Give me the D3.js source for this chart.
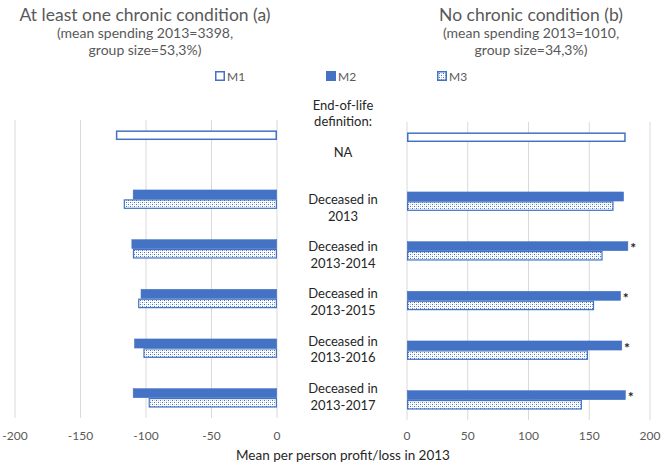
<!DOCTYPE html>
<html>
<head>
<meta charset="utf-8">
<script src="https://cdn.jsdelivr.net/npm/d3@7"></script>
<style>
  body { margin: 0; background: #fff; }
  text { font-family: Lato, "Open Sans", sans-serif; }
</style>
</head>
<body>
<div id="chart"></div>
<script>
// categories (end-of-life definitions), "\n" marks the line break
var categories = ["NA", "Deceased in\n2013", "Deceased in\n2013-2014", "Deceased in\n2013-2015",
                  "Deceased in\n2013-2016", "Deceased in\n2013-2017"];
var series = ["M1", "M2", "M3"];

// panel (a): at least one chronic condition
var chronicM1 = [-123, null, null, null, null, null];
var chronicM2 = [null, -110, -111, -104, -109, -110];
var chronicM3 = [null, -117, -110, -106, -102, -98];

// panel (b): no chronic condition
var noChronicM1 = [180, null, null, null, null, null];
var noChronicM2 = [null, 178.5, 182, 176, 177, 180];
var noChronicM3 = [null, 170, 161, 154, 149, 144];
var significantM2 = [false, false, true, true, true, true];

var leftTicks = [-200, -150, -100, -50, 0];
var rightTicks = [0, 50, 100, 150, 200];

var blue = "#4472C4";

var svg = d3.select("#chart").append("svg")
            .attr("width", 664)
            .attr("height", 466);

// dotted fill for M3
var pat = svg.append("defs").append("pattern")
             .attr("id", "dots")
             .attr("patternUnits", "userSpaceOnUse")
             .attr("width", 4)
             .attr("height", 4);
pat.append("rect").attr("width", 4).attr("height", 4).attr("fill", "#fff");
pat.append("rect").attr("x", 0).attr("y", 0).attr("width", 1).attr("height", 1).attr("fill", blue);
pat.append("rect").attr("x", 2).attr("y", 2).attr("width", 1).attr("height", 1).attr("fill", blue);
pat.append("rect").attr("x", 2).attr("y", 0).attr("width", 1).attr("height", 1).attr("fill", "#b4c7e7");
pat.append("rect").attr("x", 0).attr("y", 2).attr("width", 1).attr("height", 1).attr("fill", "#b4c7e7");

var styles = {
    M1: { fill: "#fff", stroke: blue, sw: 1.5 },
    M2: { fill: blue, stroke: blue, sw: 0.5 },
    M3: { fill: "url(#dots)", stroke: blue, sw: 1.2 }
};

function drawPanel(x, yRange, ticks, values) {
    var y = d3.scaleBand()
              .domain(categories)
              .range(yRange)
              .paddingInner(0.42)
              .paddingOuter(0.21);
    var ySub = d3.scaleBand()
                 .domain(series)
                 .range([0, y.bandwidth()]);

    // gridlines
    svg.append("g").selectAll("line")
       .data(ticks)
       .enter().append("line")
       .attr("x1", d => x(d)).attr("x2", d => x(d))
       .attr("y1", yRange[0]).attr("y2", yRange[1])
       .attr("stroke", "#d9d9d9")
       .attr("stroke-width", 1);

    // tick labels
    svg.append("g").selectAll("text")
       .data(ticks)
       .enter().append("text")
       .attr("x", d => x(d))
       .attr("y", 440)
       .attr("text-anchor", "middle")
       .attr("font-size", 12)
       .attr("fill", "#595959")
       .text(d => d);

    series.forEach(function(s, si) {
        var st = styles[s];
        var rows = categories.map((c, i) => ({ cat: c, v: values[si][i] }))
                             .filter(d => d.v !== null);
        svg.append("g").selectAll("rect")
           .data(rows)
           .enter().append("rect")
           .attr("x", d => Math.min(x(0), x(d.v)) + st.sw / 2)
           .attr("y", d => y(d.cat) + ySub(s) + st.sw / 2)
           .attr("width", d => Math.abs(x(d.v) - x(0)) - st.sw)
           .attr("height", ySub.bandwidth() - st.sw)
           .attr("fill", st.fill)
           .attr("stroke", st.stroke)
           .attr("stroke-width", st.sw);
    });
    return { y: y, ySub: ySub };
}

var leftX = d3.scaleLinear().domain([-200, 0]).range([15, 277]);
var rightX = d3.scaleLinear().domain([0, 200]).range([407, 650]);

drawPanel(leftX, [120, 418], leftTicks, [chronicM1, chronicM2, chronicM3]);
var right = drawPanel(rightX, [122, 420], rightTicks, [noChronicM1, noChronicM2, noChronicM3]);

// significance markers
svg.append("g").selectAll("text")
   .data(categories.map((c, i) => ({ cat: c, v: noChronicM2[i], sig: significantM2[i] }))
                   .filter(d => d.sig))
   .enter().append("text")
   .attr("x", d => rightX(d.v) + 5)
   .attr("y", d => right.y(d.cat) + right.ySub("M2") + right.ySub.bandwidth() / 2 + 7)
   .attr("text-anchor", "middle")
   .attr("font-size", 14)
   .attr("font-weight", "bold")
   .attr("fill", "#262626")
   .text("*");

// centre labels
var labelY = d3.scalePoint()
               .domain(["End-of-life\ndefinition:"].concat(categories))
               .range([105, 388.3]);
var lbl = svg.append("g").selectAll("text")
             .data(labelY.domain())
             .enter().append("text")
             .attr("x", 343)
             .attr("y", d => labelY(d) + 4.5)
             .attr("text-anchor", "middle")
             .attr("font-size", 13)
             .attr("fill", "#262626");
lbl.selectAll("tspan")
   .data(d => d.split("\n"))
   .enter().append("tspan")
   .attr("x", 343)
   .attr("dy", (d, i) => i === 0 ? 0 : 16.7)
   .text(d => d);

// titles
function title(cx, lines) {
    svg.append("text").attr("x", cx).attr("y", 21)
       .attr("text-anchor", "middle").attr("font-size", 17.5).attr("fill", "#595959")
       .text(lines[0]);
    svg.append("text").attr("x", cx).attr("y", 38)
       .attr("text-anchor", "middle").attr("font-size", 14).attr("fill", "#595959")
       .text(lines[1]);
    svg.append("text").attr("x", cx).attr("y", 55)
       .attr("text-anchor", "middle").attr("font-size", 14).attr("fill", "#595959")
       .text(lines[2]);
}
title(145, ["At least one chronic condition (a)", "(mean spending 2013=3398,", "group size=53,3%)"]);
title(531, ["No chronic condition (b)", "(mean spending 2013=1010,", "group size=34,3%)"]);

// legend
var legend = svg.append("g").selectAll("g")
                .data(series)
                .enter().append("g")
                .attr("transform", (d, i) => "translate(" + (215 + i * 111) + ",71)");
legend.append("rect")
      .attr("x", 0.75).attr("y", 0.75)
      .attr("width", 8.5).attr("height", 8.5)
      .attr("fill", d => styles[d].fill)
      .attr("stroke", blue)
      .attr("stroke-width", 1.5);
legend.append("text")
      .attr("x", 12).attr("y", 9.5)
      .attr("font-size", 12)
      .attr("fill", "#595959")
      .text(d => d);

// axis title
svg.append("text")
   .attr("x", 343).attr("y", 460)
   .attr("text-anchor", "middle")
   .attr("font-size", 13.5)
   .attr("fill", "#262626")
   .text("Mean per person profit/loss in 2013");
</script>
</body>
</html>
